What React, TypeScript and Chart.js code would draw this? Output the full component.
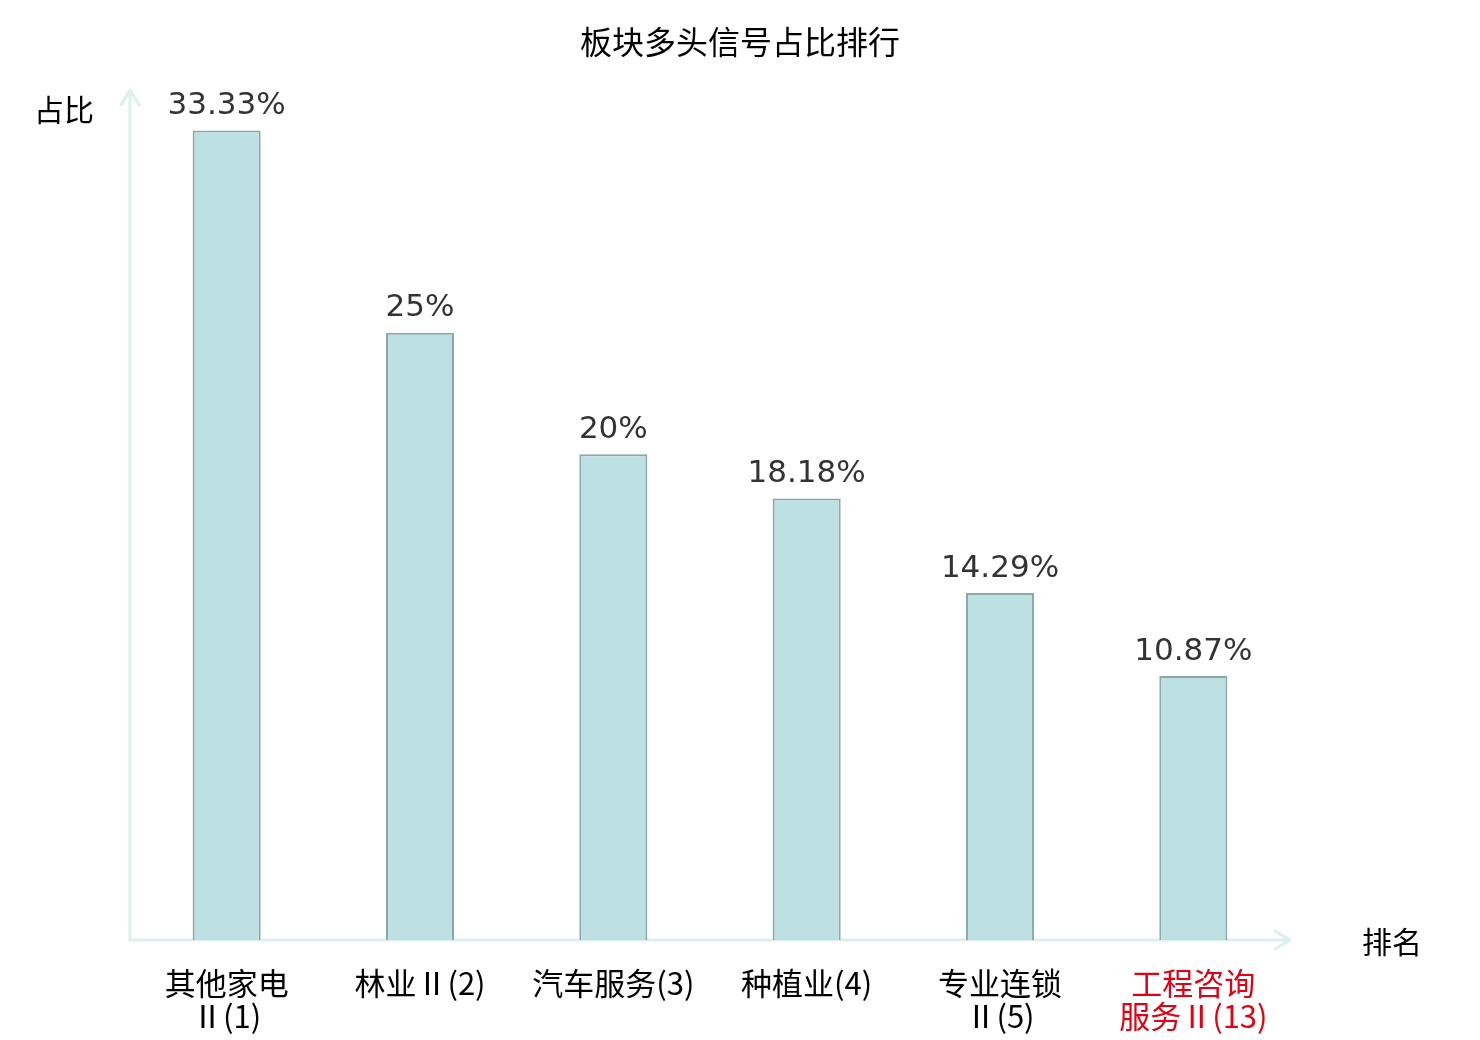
import { useEffect, useRef } from "react";
import { Chart, registerables } from "chart.js";
import type { Plugin } from "chart.js";

Chart.register(...registerables);

const categories: string[][] = [
    ["其他家电", "Ⅱ(1)"],
    ["林业Ⅱ(2)"],
    ["汽车服务(3)"],
    ["种植业(4)"],
    ["专业连锁", "Ⅱ(5)"],
    ["工程咨询", "服务Ⅱ(13)"],
];
const shares = [33.33, 25, 20, 18.18, 14.29, 10.87];
const shareLabels = ["33.33%", "25%", "20%", "18.18%", "14.29%", "10.87%"];
const highlightIndex = 5;

const chartTitle = "板块多头信号占比排行";
const yName = "占比";
const xName = "排名";

const CJK = '"Noto Sans CJK SC", "DejaVu Sans", sans-serif';
const AXIS_COLOR = "#dcf0ed";

const decorPlugin: Plugin<"bar"> = {
    id: "decor",
    beforeDatasetsDraw(chart) {
        const { ctx, chartArea } = chart;
        const { left, right, top, bottom } = chartArea;
        ctx.save();
        ctx.strokeStyle = AXIS_COLOR;
        ctx.lineWidth = 3;
        ctx.lineCap = "round";
        ctx.lineJoin = "round";
        // y axis
        ctx.beginPath();
        ctx.moveTo(left, bottom);
        ctx.lineTo(left, top);
        ctx.moveTo(left - 9, top + 15);
        ctx.lineTo(left, top);
        ctx.lineTo(left + 9, top + 15);
        ctx.stroke();
        // x axis
        ctx.beginPath();
        ctx.moveTo(left, bottom);
        ctx.lineTo(right, bottom);
        ctx.moveTo(right - 15, bottom - 9);
        ctx.lineTo(right, bottom);
        ctx.lineTo(right - 15, bottom + 9);
        ctx.stroke();
        ctx.restore();
    },
    afterDatasetsDraw(chart) {
        const { ctx, chartArea } = chart;
        const meta = chart.getDatasetMeta(0);
        ctx.save();
        ctx.fillStyle = "#333333";
        ctx.font = '31px "DejaVu Sans", sans-serif';
        ctx.textAlign = "center";
        ctx.textBaseline = "bottom";
        meta.data.forEach((bar, i) => {
            ctx.fillText(shareLabels[i], bar.x, bar.y - 9);
        });

        ctx.fillStyle = "#000000";
        ctx.font = `32px ${CJK}`;
        ctx.textBaseline = "middle";
        ctx.fillText(chartTitle, 740, 42);
        ctx.font = `30px ${CJK}`;
        ctx.textAlign = "left";
        ctx.fillText(yName, 34, 110);
        ctx.fillText(xName, chartArea.right + 72, chartArea.bottom + 2);
        ctx.restore();
    },
};

export default function App() {
    const canvasRef = useRef<HTMLCanvasElement | null>(null);
    const chartRef = useRef<Chart<"bar"> | null>(null);

    useEffect(() => {
        const canvas = canvasRef.current;
        if (!canvas) {
            return;
        }
        if (chartRef.current) {
            chartRef.current.destroy();
        }

        chartRef.current = new Chart(canvas, {
            type: "bar",
            data: {
                labels: categories,
                datasets: [
                    {
                        data: shares,
                        backgroundColor: "#bde0e3",
                        borderColor: "#8aa7a9",
                        borderWidth: 2,
                        barPercentage: 0.352,
                        categoryPercentage: 1,
                    },
                ],
            },
            options: {
                responsive: false,
                animation: false,
                devicePixelRatio: 1,
                layout: {
                    padding: { left: 130, right: 190, top: 90, bottom: 0 },
                },
                scales: {
                    x: {
                        grid: { display: false, drawTicks: false },
                        border: { display: false },
                        ticks: {
                            padding: 27,
                            autoSkip: false,
                            maxRotation: 0,
                            font: { family: CJK, size: 31, lineHeight: 1.05 },
                            color: (c) =>
                                c.index === highlightIndex ? "#e60012" : "#000000",
                        },
                        afterFit: (scale) => {
                            scale.height = 100;
                        },
                    },
                    y: {
                        display: false,
                        min: 0,
                        max: 35,
                    },
                },
                plugins: {
                    legend: { display: false },
                    tooltip: { enabled: false },
                },
            },
            plugins: [decorPlugin],
        });

        return () => {
            if (chartRef.current) {
                chartRef.current.destroy();
                chartRef.current = null;
            }
        };
    }, []);

    return (
        <div
            style={{
                position: "fixed",
                left: 0,
                top: 0,
                width: 1480,
                height: 1040,
                background: "#ffffff",
            }}
        >
            <canvas ref={canvasRef} width={1480} height={1040} />
        </div>
    );
}
